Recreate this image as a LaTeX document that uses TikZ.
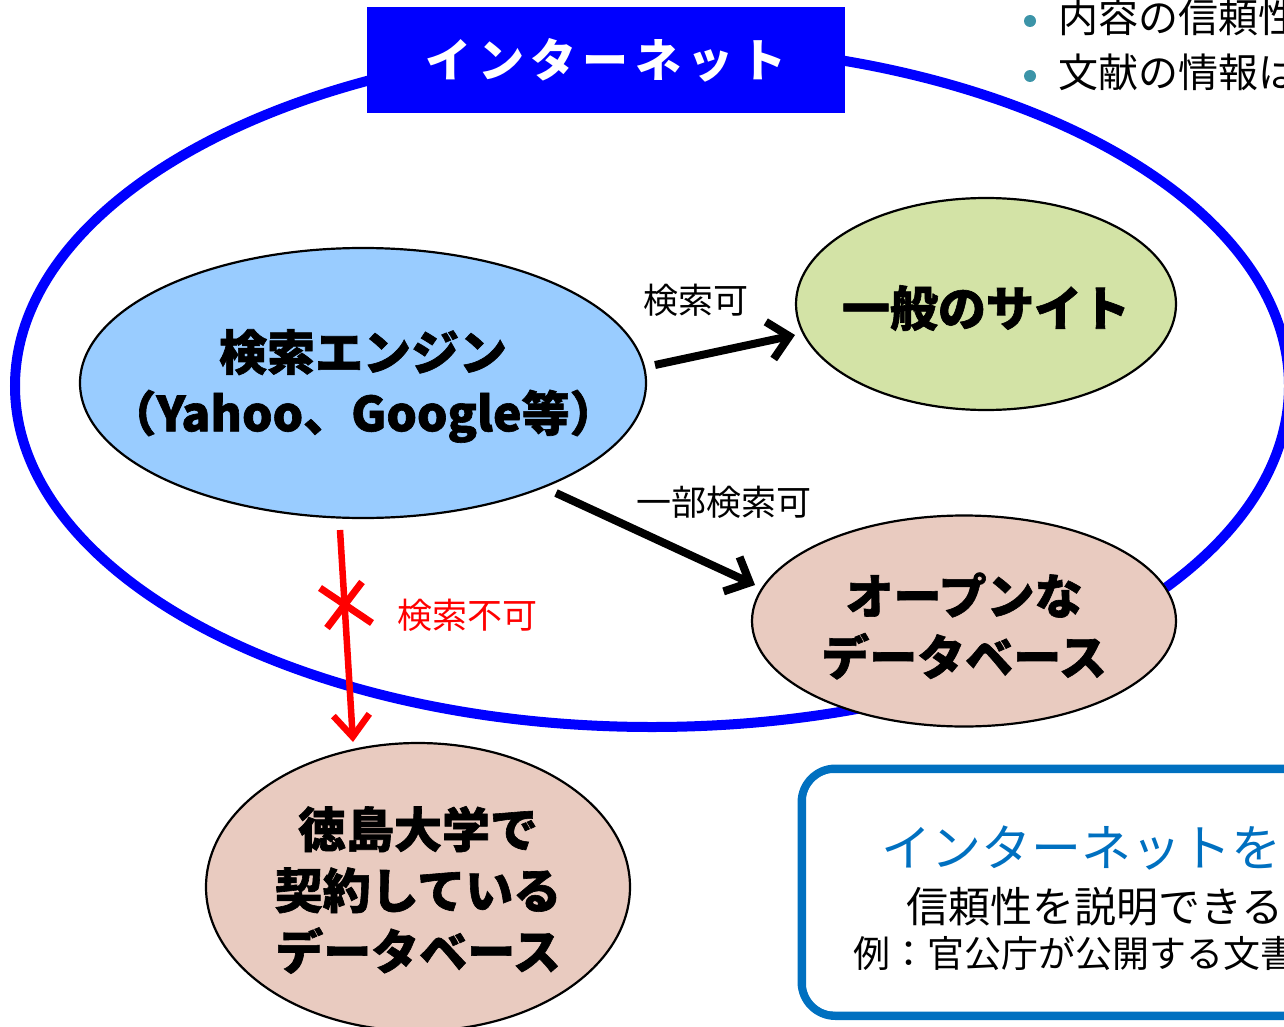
\documentclass[tikz,border=0pt]{standalone}
\usepackage{fontspec}
\setmainfont{Noto Sans CJK JP}
\newfontfamily\heavyjp{Noto Sans CJK JP}[BoldFeatures={FakeBold=1.3}]
\usetikzlibrary{arrows.meta,shapes.geometric}
\definecolor{netblue}{RGB}{0,0,255}
\definecolor{seblue}{RGB}{153,204,255}
\definecolor{gengreen}{RGB}{211,227,166}
\definecolor{dbpink}{RGB}{233,203,192}
\definecolor{bulletc}{RGB}{60,148,168}
\definecolor{noteblue}{RGB}{0,112,192}
\begin{document}
\begin{tikzpicture}[x=1pt,y=-1pt,
  bub/.style={ellipse, draw=black, line width=2.2pt, inner sep=0pt, outer sep=0pt},
  bubtext/.style={inner sep=0pt, align=center, font=\heavyjp\bfseries\fontsize{48}{61}\selectfont},
  arr/.style={line width=8pt, -{Straight Barb[length=20pt,width=38pt]}},
  redarr/.style={red, line width=6.5pt, -{Straight Barb[length=22pt,width=36pt]}},
  lab/.style={font=\fontsize{35}{40}\selectfont, inner sep=0pt},
  txt/.style={inner sep=0pt, anchor=west}]
\useasboundingbox (0,0) rectangle (1284,1027);
\clip (0,0) rectangle (1284,1027);
% internet ellipse
\node[ellipse, draw=netblue, line width=10pt, minimum width=1274pt, minimum height=682pt, inner sep=0pt, outer sep=0pt] (net) at (652,386) {};
% title
\node[fill=netblue, minimum width=478pt, minimum height=106pt, inner sep=0pt, text=white,
  font=\bfseries\fontsize{46}{50}\selectfont\addfontfeature{LetterSpace=14}] (title) at (606,60) {インターネット};
% bubbles
\node[bub, fill=seblue, minimum width=566pt, minimum height=270pt] (se) at (363,383) {};
\node[bubtext] (set) at (363,386) {検索エンジン\\（Yahoo、Google等）};
\node[bub, fill=gengreen, minimum width=380pt, minimum height=212pt] (gen) at (986,304) {};
\node[bubtext] (gent) at (986,308) {一般のサイト};
\node[bub, fill=dbpink, minimum width=424pt, minimum height=211pt] (odb) at (964,621) {};
\node[bubtext] (odbt) at (964,626) {オープンな\\データベース};
\node[bub, fill=dbpink, minimum width=424pt, minimum height=288pt] (tdb) at (418,887) {};
\node[bubtext] (tdbt) at (418,890) {徳島大学で\\契約している\\データベース};
% arrows
\draw[arr] ([shift={(292,-18)}]se.center) -- ([shift={(-191,31)}]gen.center);
\draw[arr] ([shift={(193,110)}]se.center) -- ([shift={(-209,-36)}]odb.center);
\draw[redarr] ([shift={(-23,147)}]se.center) -- ([shift={(-65,-145)}]tdb.center);
\draw[red, line width=7pt] (320,588) -- (372,623) (362,582) -- (327,628);
% labels
\node[lab] (l1) at (696,300) {検索可};
\node[lab] (l2) at (724,502) {一部検索可};
\node[lab, text=red] (l3) at (467,615) {検索不可};
% top-right bullets
\fill[bulletc] (1030,21) circle[radius=6pt];
\fill[bulletc] (1030,76) circle[radius=6pt];
\node[txt, font=\fontsize{40}{44}\selectfont] (b1) at (1058,17) {内容の信頼性};
\node[txt, font=\fontsize{40}{44}\selectfont] (b2) at (1058,72) {文献の情報は};
% note box
\node[draw=noteblue, line width=8pt, rounded corners=34pt, minimum width=700pt, minimum height=247.5pt, inner sep=0pt] (note) at (1151.5,892.25) {};
\draw[noteblue, line width=2pt, rounded corners=28pt] ([shift={(7.5,7.5)}]note.north west) rectangle ([shift={(-7.5,-7.5)}]note.south east);
\node[txt, text=noteblue, font=\fontsize{50}{54}\selectfont] (n1) at (881,848) {インターネットを};
\node[txt, font=\fontsize{42}{46}\selectfont] (n2) at (906,907) {信頼性を説明できる};
\node[txt, font=\fontsize{37}{40}\selectfont] (n3) at (853,953) {例：官公庁が公開する文書};
\end{tikzpicture}
\end{document}
